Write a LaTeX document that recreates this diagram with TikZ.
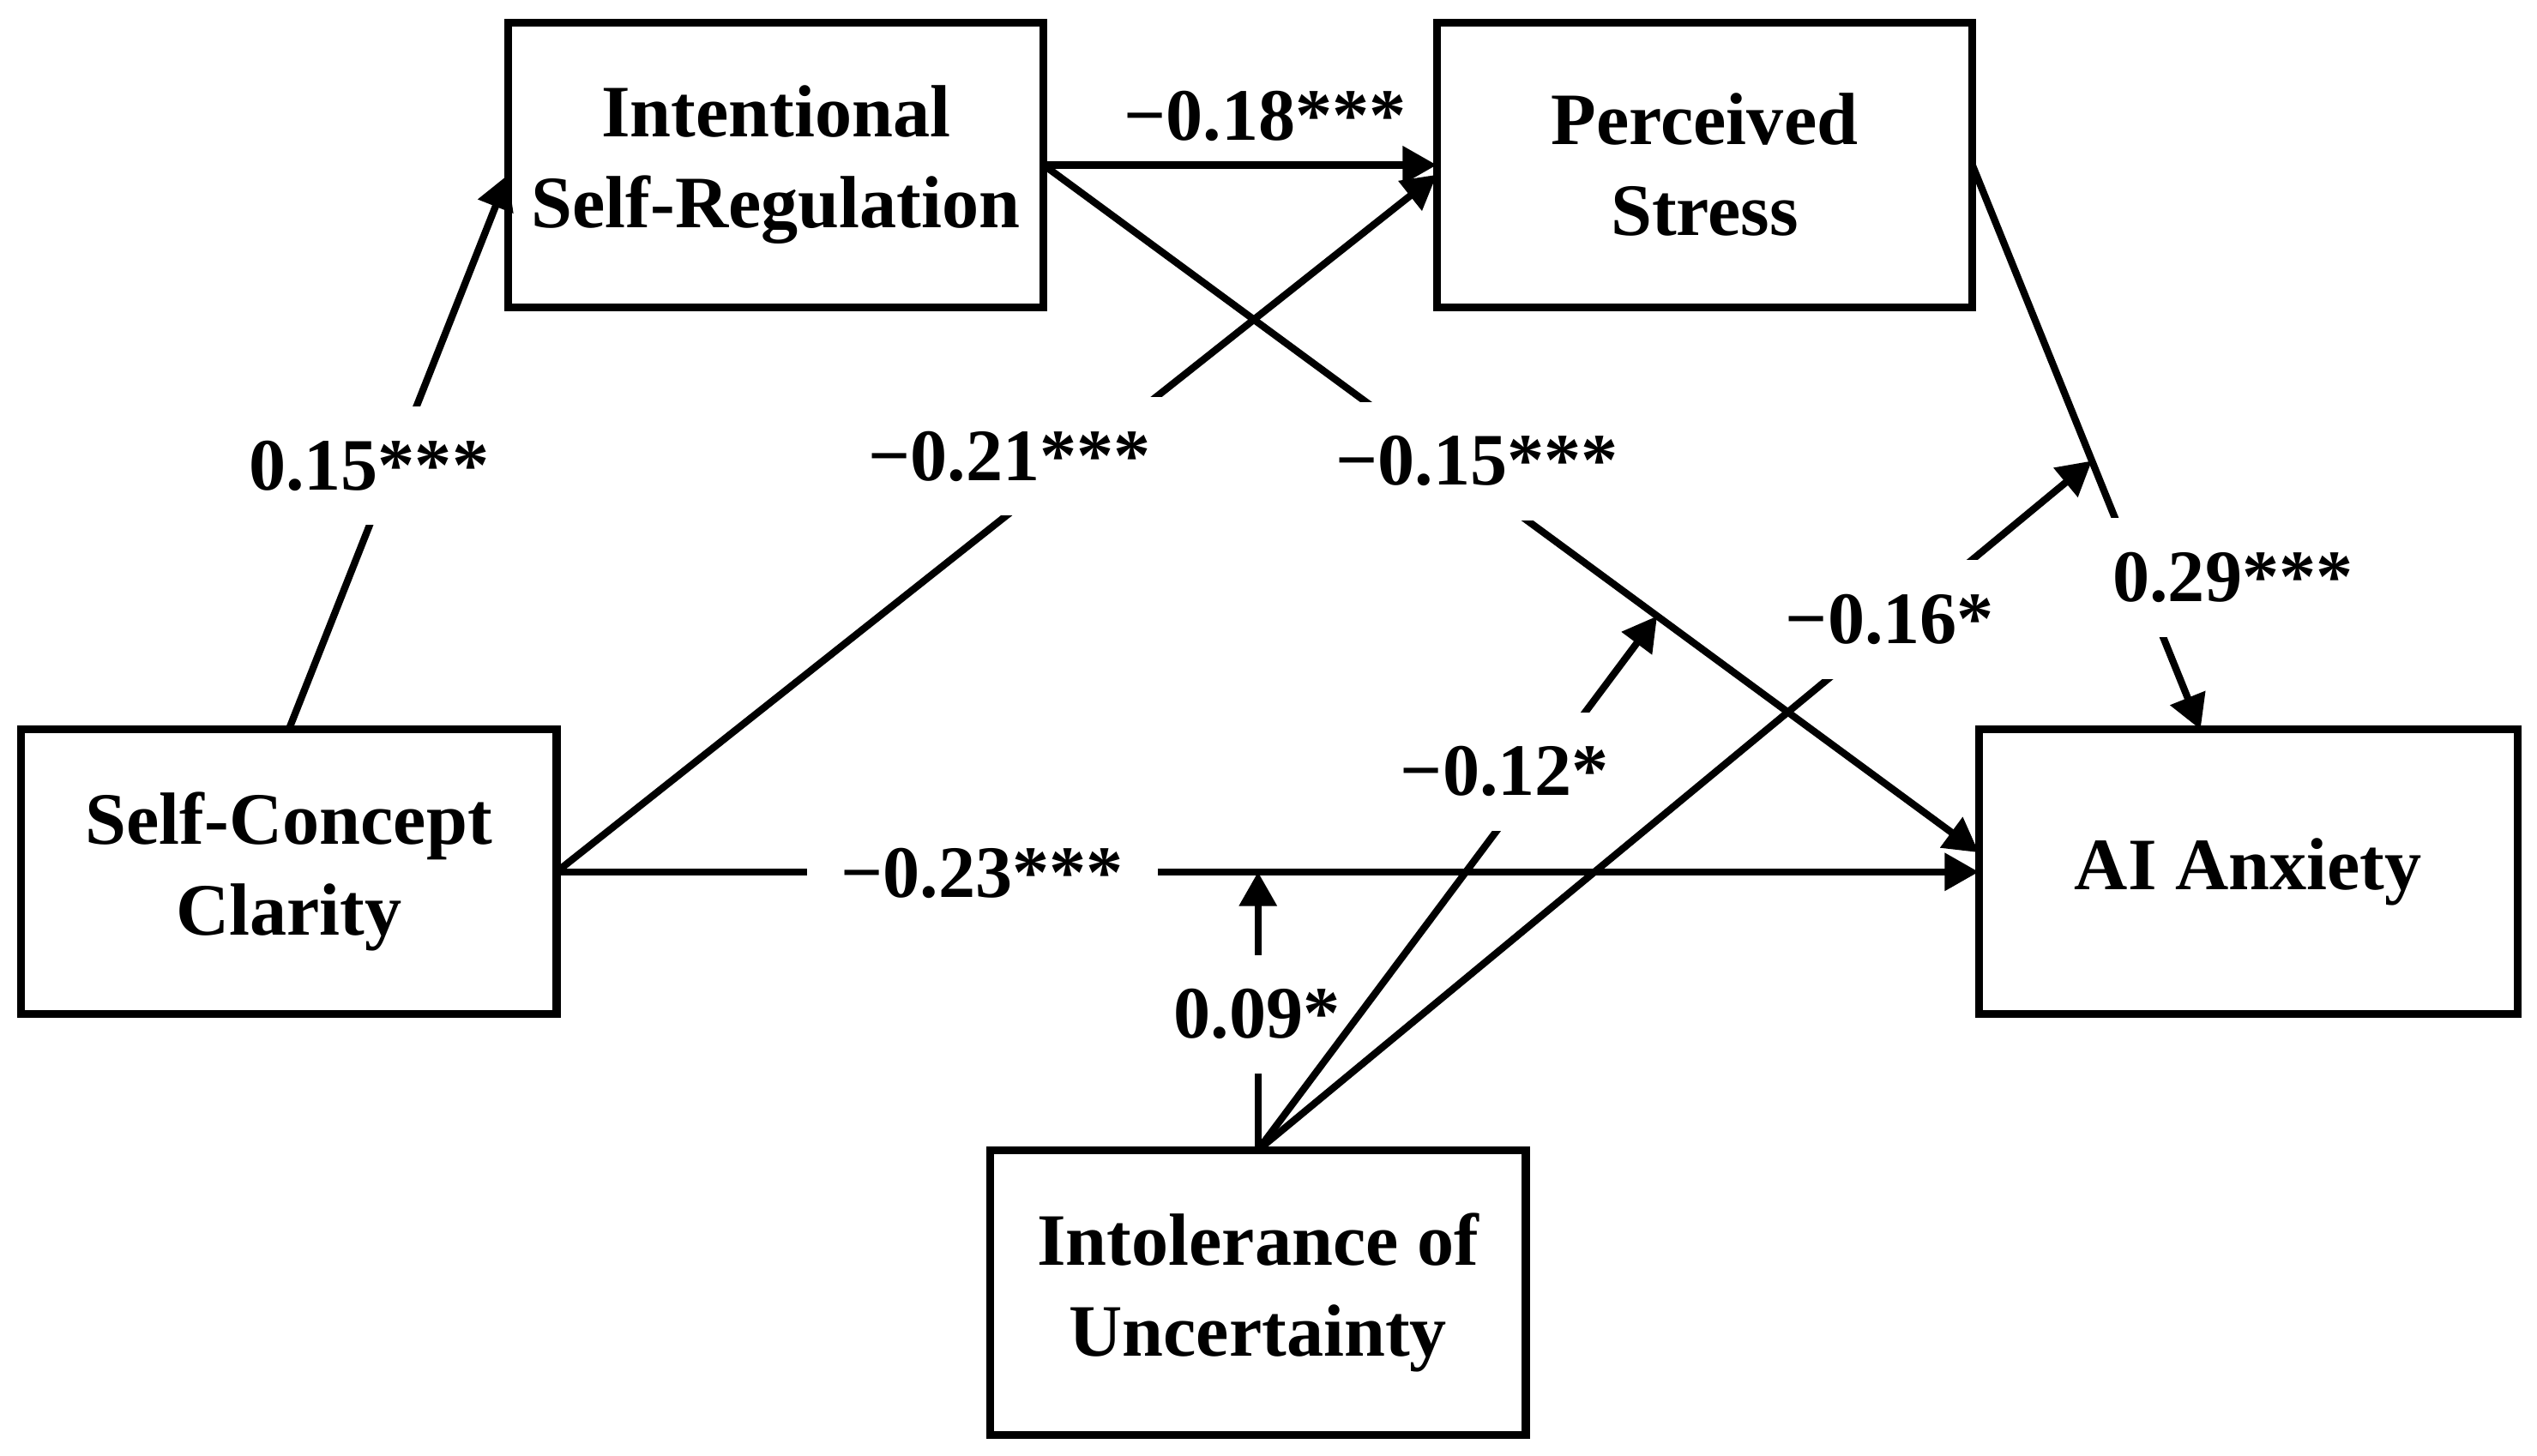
\documentclass[tikz,border=0pt]{standalone}
\usepackage{fontspec}
\setmainfont{Liberation Serif}
\usepackage{tikz}
\usetikzlibrary{arrows.meta, positioning, calc}
\tikzset{
  sem/box/.style={rectangle, draw=black, fill=white,
    minimum width=3.31cm, minimum height=1.76cm, outer sep=0pt,
    font=\fontsize{13}{16}\selectfont\bfseries, align=center, line width=1.4pt},
  sem/arr/.style={-{Triangle[length=6pt,width=6.4pt]}, line width=1.25pt,
    draw=black},
  sem/lbl/.style={font=\fontsize{13}{16}\selectfont\bfseries,
    fill=white, inner xsep=4pt, inner ysep=6pt}
}

\begin{document}
\begin{tikzpicture}
    \useasboundingbox (0,0) rectangle (15.68,9);
    % variables
    \node[sem/box] (scc) at (1.785,3.61) {Self-Concept\\Clarity};
    \node[sem/box] (isr) at (4.795,7.98) {Intentional\\Self-Regulation};
    \node[sem/box] (ps) at (10.535,7.98) {Perceived\\Stress};
    \node[sem/box, minimum width=3.33cm] (aia) at (13.895,3.61) {AI Anxiety};
    \node[sem/box] (iu) at (7.775,1.01) {Intolerance of\\Uncertainty};

    % paths
    \draw[sem/arr] (scc.north) -- ([yshift=-0.06cm]isr.west);
    \draw[sem/arr] (isr.east) -- (ps.west);
    \draw[sem/arr] (scc.east) -- ([yshift=-0.06cm]ps.west);
    \draw[sem/arr] (isr.east) -- ([yshift=0.12cm]aia.west) coordinate[pos=0.656] (m2);
    \draw[sem/arr] (ps.east) -- ([xshift=-0.295cm]aia.north) coordinate[pos=0.524] (m3);
    \draw[sem/arr] (scc.east) -- (aia.west) coordinate[pos=0.493] (m1);

    % coefficients of the main paths
    \node[sem/lbl] (c1) at (2.28,6.12) {0.15***};
    \node[sem/lbl, fill=none] (c2) at (7.82,8.28) {−0.18***};
    \node[sem/lbl] (c3) at (6.24,6.18) {−0.21***};
    \node[sem/lbl] (c4) at (9.13,6.15) {−0.15***};
    \node[sem/lbl] (c5) at (13.80,5.43) {0.29***};
    \node[sem/lbl, inner xsep=6pt] (c8) at (6.07,3.60) {−0.23***};

    % moderation by intolerance of uncertainty
    \draw[sem/arr] (iu.north) -- (iu.north |- m1);
    \node[sem/lbl] (c9) at (7.77,2.73) {0.09*};
    \draw[sem/arr] (iu.north) -- (m2);
    \draw[sem/arr] (iu.north) -- (m3);
    \node[sem/lbl] (c6) at (11.68,5.17) {−0.16*};
    \node[sem/lbl] (c7) at (9.30,4.23) {−0.12*};
\end{tikzpicture}
\end{document}
